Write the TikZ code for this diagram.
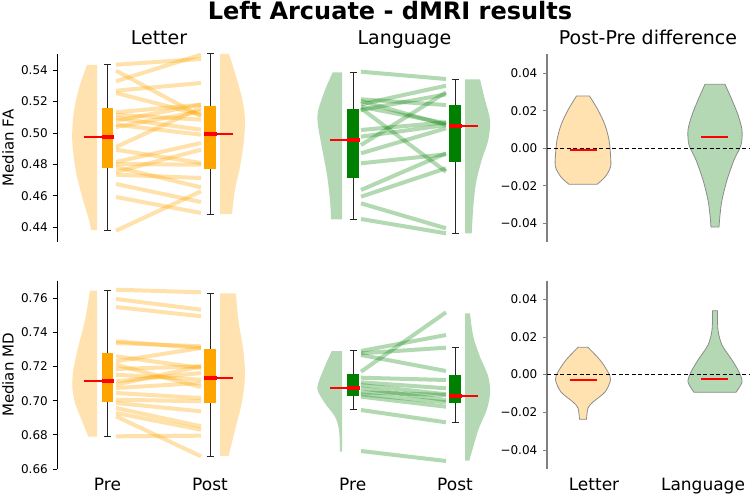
\documentclass[tikz,border=0pt]{standalone}
\usepackage{fontspec}
\setmainfont{DejaVu Sans}
\definecolor{orng}{HTML}{FFA500}
\definecolor{grn}{HTML}{008000}
\definecolor{orngv}{HTML}{FFE2B0}
\definecolor{grnv}{HTML}{B3D8B3}
\definecolor{axgray}{HTML}{808080}
\begin{document}
\begin{tikzpicture}[x=1pt,y=-1pt,
  ticklab/.style={font=\fontsize{12}{14}\selectfont, anchor=east, inner sep=0pt},
  headlab/.style={font=\fontsize{19}{22}\selectfont, anchor=base, inner sep=0pt},
  catlab/.style={font=\fontsize{17}{20}\selectfont, anchor=base, inner sep=0pt},
  ylab/.style={font=\fontsize{15}{18}\selectfont, rotate=90, inner sep=0pt},
  axl/.style={line width=1pt, black},
  axr/.style={line width=1.6pt, axgray},
  tkl/.style={line width=0.9pt, black},
  tkr/.style={line width=0.9pt, axgray},
  opl/.style={orng, opacity=0.33, line width=4pt},
  gpl/.style={grn, opacity=0.3, line width=4pt},
  whisk/.style={line width=1pt, black!85},
  medthin/.style={red, line width=1.8pt},
  medthick/.style={red, line width=4pt},
  vio/.style={draw=black!45, line width=0.8pt},
  zeroline/.style={black, line width=1pt, dash pattern=on 4pt off 2.5pt}
]
\useasboundingbox (0,0) rectangle (750,495);

% ---------------- titles ----------------
\node[font=\fontsize{24}{27}\selectfont\bfseries, anchor=base, inner sep=0pt] (title) at (390,20) {Left Arcuate - dMRI results};
\node[headlab] (hletter) at (159,45) {Letter};
\node[headlab] (hlang) at (404.5,45) {Language};
\node[headlab] (hdiff) at (648,45) {Post-Pre difference};

% ---------------- y labels ----------------
\node[ylab] (yfa) at (8,148) {Median FA};
\node[ylab] (ymd) at (8,375) {Median MD};

% ---------------- left axes ----------------
\draw[axl] (57,54) -- (57,242);
\foreach \v/\y [count=\i] in {0.54/70.2,0.52/101.6,0.50/133,0.48/164.4,0.46/195.8,0.44/227.2}{
  \draw[tkl] (52.5,\y) -- (57,\y);
  \node[ticklab] (tfa\i) at (48,\y) {\v};
}
\draw[axl] (57,280.7) -- (57,469);
\foreach \v/\y [count=\i] in {0.76/298.3,0.74/332.4,0.72/366.6,0.70/400.7,0.68/434.9,0.66/469}{
  \draw[tkl] (52.5,\y) -- (57,\y);
  \node[ticklab] (tmd\i) at (48,\y) {\v};
}

% ---------------- right axes ----------------
\draw[axr] (547,54) -- (547,242);
\foreach \v/\y [count=\i] in {0.04/73.3,0.02/110.8,0.00/148.3,−0.02/185.8,−0.04/223.3}{
  \draw[tkr] (543,\y) -- (547,\y);
  \node[ticklab] (tdt\i) at (537.5,\y) {\v};
}
\draw[axr] (547,280.7) -- (547,469.3);
\foreach \v/\y [count=\i] in {0.04/299.3,0.02/337,0.00/374.6,−0.02/412.5,−0.04/450.3}{
  \draw[tkr] (543,\y) -- (547,\y);
  \node[ticklab] (tdb\i) at (537.5,\y) {\v};
}

% ---------------- half violins ----------------
\fill[orngv] (97,65) -- plot[smooth] coordinates {(87,65) (80,85) (75,105) (72.5,125) (72.5,145) (76,172) (83,200) (89,220) (91,230)} -- (97,230) -- cycle;
\fill[orngv] (220,54) -- plot[smooth] coordinates {(229,54) (235,73) (242.5,100) (245,120) (244,140) (240,167) (235,190) (232,214)} -- (220,214) -- cycle;
\fill[grnv] (342,72.3) -- plot[smooth] coordinates {(332.7,72.3) (325,90) (318.3,110) (317.7,123) (321.7,146.7) (326.7,173) (330,200) (331,219.3)} -- (342,219.3) -- cycle;
\fill[grnv] (465,79.3) -- plot[smooth] coordinates {(480,79.3) (485,100) (490,120) (488.3,140) (481.7,160) (476,183) (473.3,206.7) (471.7,233.3)} -- (465,233.3) -- cycle;
\fill[orngv] (97,290.7) -- plot[smooth] coordinates {(90,290.7) (85,320) (78.3,346.7) (73.3,370) (72.3,386.7) (75,403.3) (81.7,420) (88.3,436.7)} -- (97,436.7) -- cycle;
\fill[orngv] (220,293.3) -- plot[smooth] coordinates {(236,293.3) (238.3,320) (243.3,350) (245,376.7) (241.7,403.3) (235,430) (228.7,456)} -- (220,456) -- cycle;
\fill[grnv] (342,351) -- plot[smooth] coordinates {(331.7,351) (323.3,370) (317.3,388.3) (325,403.3) (335,416.7) (339,430) (340,451.7)} -- (342,451.7) -- cycle;
\fill[grnv] (465,313.3) -- plot[smooth] coordinates {(470,313.3) (473.3,336.7) (480,356.7) (488.3,376.7) (490,393.3) (486.7,410) (478.3,430) (469.3,460.7)} -- (465,460.7) -- cycle;

% ---------------- paired lines ----------------
\foreach \a/\b in {64.7/59, 70.7/116.3, 81.3/54.7, 90.7/83, 93/114.7, 112.3/104.7, 114.7/119.7, 118/129.7, 120.7/104.7, 124.7/134.7, 127/111.3, 147/108, 149.7/163, 162/143, 164/164.7, 167/187.3, 172/149.7, 174.7/178, 184/202, 197/213, 230.7/191.3}{
  \draw[opl] (116,\a) -- (201,\b);
}
\foreach \a/\b in {71.7/79, 99.3/105, 101/125, 104.3/85.7, 108.3/171.7, 110/94.3, 106.7/123.3, 130/122.3, 136.7/125, 145/92.3, 153.3/128.3, 163.3/154.3, 190/153.3, 196.7/168.3, 203.3/228.3, 219/233.3}{
  \draw[gpl] (361,\a) -- (446,\b);
}
\foreach \a/\b in {289.7/292.3, 299/309.7, 307/316.3, 341.3/348, 343/346.3, 356.3/368, 361.3/348, 364.7/387, 369/366.3, 374.7/379.7, 381.3/373, 384.7/366.3, 388/383, 393/398, 399.7/401.3, 403/411.3, 408/426.3, 413/429.7, 416.3/456.3, 436.3/435.7}{
  \draw[opl] (116,\a) -- (201,\b);
}
\foreach \a/\b in {371.7/312.3, 351/335, 353.3/347.7, 355/371, 377.7/380, 382.3/388.3, 385/394.3, 388.3/400, 392.3/395, 394.3/402.3, 396.7/406.7, 410/422.3, 451/461}{
  \draw[gpl] (361,\a) -- (446,\b);
}

% ---------------- box plots ----------------
\foreach \x/\t/\b in {107.5/65/230, 210/54/214, 353/72.3/219.3, 455/79.3/233.7, 107.5/290.7/436.7, 210/293.3/456, 353/350.7/409.3, 455/347.7/422.7}{
  \draw[whisk] (\x,\t) -- (\x,\b);
  \draw[whisk] (\x-3.5,\t) -- (\x+3.5,\t);
  \draw[whisk] (\x-3.5,\b) -- (\x+3.5,\b);
}
\fill[orng] (102,108) rectangle (113,168);
\fill[orng] (204,106) rectangle (216,169);
\fill[grn] (347,109) rectangle (359,178);
\fill[grn] (449,105) rectangle (461,162);
\fill[orng] (102,352.7) rectangle (113,401.7);
\fill[orng] (204,349.3) rectangle (216,402.7);
\fill[grn] (347,374.3) rectangle (359,395.7);
\fill[grn] (449,375.3) rectangle (461,402.7);
\foreach \y in {137,380.7}{ \draw[medthin] (84,\y) -- (102,\y); \draw[medthick] (101.5,\y) -- (114,\y); }
\foreach \y in {133.7,377.7}{ \draw[medthick] (203.5,\y) -- (217,\y); \draw[medthin] (217,\y) -- (233,\y); }
\foreach \y in {140,388.3}{ \draw[medthin] (330,\y) -- (347,\y); \draw[medthick] (346.5,\y) -- (360,\y); }
\foreach \y in {126.3,395.7}{ \draw[medthick] (448.5,\y) -- (462,\y); \draw[medthin] (462,\y) -- (478,\y); }

% ---------------- difference violins ----------------
\draw[vio, fill=orngv] (576.5,96) -- plot[smooth] coordinates {(589.5,96) (598,110) (605,125) (609,140) (610.5,155) (610.5,167) (605,177) (597,184.3)} -- plot[smooth] coordinates {(569,184.3) (561,177) (555.5,167) (555.5,155) (557,140) (561,125) (568,110) (576.5,96)} -- cycle;
\draw[vio, fill=grnv] (705,84.3) -- plot[smooth] coordinates {(725,84.3) (732,100) (738,115) (742,130) (741,145) (734,160) (727,180) (722,200) (720,215) (719,227)} -- plot[smooth] coordinates {(711,227) (710,215) (708,200) (703,180) (696,160) (689,145) (688,130) (692,115) (698,100) (705,84.3)} -- cycle;
\draw[vio, fill=orngv] (578,347.3) -- plot[smooth] coordinates {(588,347.3) (600,360) (608,372) (610.5,380) (605,392) (593,402) (588,408) (586.5,419.3)} -- plot[smooth] coordinates {(579.5,419.3) (578,408) (573,402) (561,392) (555.5,380) (558,372) (566,360) (578,347.3)} -- cycle;
\draw[vio, fill=grnv] (712.5,310.7) -- plot[smooth] coordinates {(717.5,310.7) (718,330) (722,345) (732,360) (739,372) (742,382) (736,392.3)} -- plot[smooth] coordinates {(694,392.3) (688,382) (691,372) (698,360) (708,345) (712,330) (712.5,310.7)} -- cycle;

\draw[zeroline] (547,148.3) -- (750,148.3);
\draw[zeroline] (547,374.6) -- (750,374.6);

\draw[red, line width=2pt] (570,149.7) -- (597,149.7);
\draw[red, line width=2pt] (701,137) -- (728,137);
\draw[red, line width=2pt] (570,380) -- (597,380);
\draw[red, line width=2pt] (701,379) -- (728,379);

% ---------------- category labels ----------------
\node[catlab] (cpre1) at (107.5,490) {Pre};
\node[catlab] (cpost1) at (210,490) {Post};
\node[catlab] (cpre2) at (352.7,490) {Pre};
\node[catlab] (cpost2) at (455,490) {Post};
\node[catlab] (clet) at (594,490) {Letter};
\node[catlab] (clang) at (703,490) {Language};
\end{tikzpicture}
\end{document}
